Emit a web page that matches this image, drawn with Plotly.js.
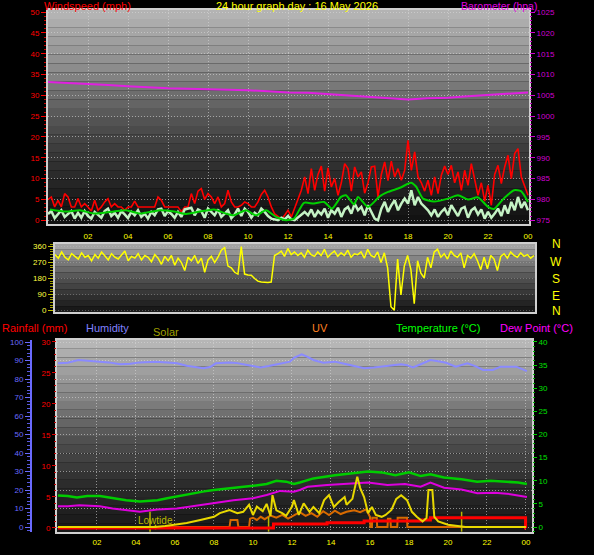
<!DOCTYPE html>
<html><head><meta charset="utf-8">
<script src="https://cdn.plot.ly/plotly-3.0.1.min.js"></script>
<style>html,body{margin:0;padding:0;background:#000;}#chart{width:594px;height:555px;}</style>
</head><body><div id="chart"></div>
<script>
// ---------- DATA ----------
// Panel 1: 10-minute samples from 00:00 to 24:00 (145 samples)
const windGust = [
 5.0,5.6,3.2,4.8,3.2,6.4,5.6,3.2,3.2,5.2,3.2,4.0,3.2,
 2.2,4.8,2.4,3.2,4.4,5.2,3.2,4.0,3.2,3.2,2.4,3.2,
 3.2,4.6,3.2,3.2,3.2,3.2,3.2,3.2,5.6,4.8,3.2,3.2,
 3.2,3.2,3.2,2.0,3.2,3.2,6.4,4.0,7.0,7.6,5.0,6.4,
 5.6,4.0,5.6,3.2,4.0,7.2,4.4,3.2,3.2,3.6,4.4,4.0,
 3.2,3.2,4.4,6.2,7.2,5.6,3.2,1.5,0.8,0.3,1.2,2.4,
 0.8,2.8,5.0,7.2,10.4,6.4,12.4,7.2,11.0,13.0,7.0,12.6,
 8.0,10.0,6.0,9.0,13.6,12.4,7.0,12.8,10.4,11.6,6.5,9.0,
 12.8,13.0,5.6,11.0,14.0,9.5,14.2,10.4,12.4,9.6,12.0,19.2,
 12.0,16.4,10.4,9.0,7.0,9.6,6.0,10.4,6.4,10.8,13.0,11.0,
 13.2,9.0,11.6,7.2,12.0,8.4,13.6,9.6,6.0,9.0,4.6,8.4,
 3.6,11.0,13.2,8.8,12.8,15.6,10.0,16.0,17.2,10.4,8.0,6.0
];
const windSpeed = [
 1.5,2.2,0.5,1.5,2.4,0.8,1.5,2.2,0.4,1.8,
 0.6,2.2,1.0,0.4,2.0,1.2,0.6,2.2,2.8,1.0,
 1.8,0.6,2.2,1.4,0.5,2.0,1.2,2.4,0.8,1.6,
 0.4,2.0,1.2,2.6,2.8,1.0,2.2,1.5,0.6,2.0,
 0.8,2.6,2.8,3.0,1.2,2.6,2.2,0.6,2.8,2.0,
 1.2,2.6,0.8,1.6,2.4,0.5,1.4,2.8,1.0,2.8,
 2.0,0.6,1.8,1.2,2.8,2.0,1.0,0.4,0.2,0.0,
 0.6,0.2,1.0,
 0.2,0.0,0.6,1.2,2.0,1.2,2.6,0.8,2.2,1.4,2.8,0.6,
 2.4,1.6,3.0,0.8,2.6,3.2,1.6,4.0,2.4,3.2,1.2,3.6,
 2.0,0.4,0.0,2.8,4.4,2.0,3.6,4.8,2.4,4.0,5.2,4.0,
 7.2,3.6,5.6,4.0,3.2,2.4,1.2,2.6,0.8,2.0,2.8,1.2,
 3.6,2.4,1.0,2.8,3.2,0.6,2.4,3.0,1.4,2.6,0.4,2.0,
 0.6,1.6,2.8,1.0,3.6,1.6,4.4,2.4,5.6,3.0,4.4,2.4
];
const windAvgHours = [0.1,0.9,1.6,2.3,3.3,3.9,4.6,5.6,6.3,6.9,7.6,8.3,8.9,9.3,9.9,10.4,10.9,11.4,11.9,12.3,12.8,13.3,13.8,14.2,14.65,14.9,15.3,15.5,16.0,16.6,17.0,17.6,18.15,18.4,18.75,19.3,20.0,20.5,21.0,21.5,22.0,22.3,22.8,23.3,23.65,24.0];
const windAvg      = [2.6,2.1,2.4,1.6,2.1,2.4,1.6,2.4,2.1,1.5,2.1,2.6,1.6,1.2,2.4,1.2,2.4,0.8,0.0,0.4,4.2,4.0,4.4,2.8,5.6,6.0,3.8,5.6,3.2,5.8,6.8,7.8,9.0,8.1,5.2,4.5,5.2,6.0,5.0,5.5,3.2,2.7,5.3,7.2,7.0,4.4];
const baroHours = [0,1,2,3,4,5,6,7,8,8.5,9,10,11,12,13,14,15,16,17,18,19,20,21,22,23,24];
const baro      = [1008.2,1008.0,1007.7,1007.5,1007.2,1006.9,1006.7,1006.6,1006.5,1006.4,1006.3,1006.2,1006.0,1005.7,1005.6,1005.3,1005.05,1004.6,1004.4,1004.0,1004.3,1004.4,1004.8,1005.1,1005.3,1005.7];

// Panel 2: wind direction (degrees), 10-minute samples
const windDir = [
 315,295,330,300,285,320,305,
 290,325,300,310,280,315,
 295,330,305,285,320,300,
 290,310,335,280,305,295,
 320,285,310,300,275,315,
 295,260,305,280,310,255,
 295,270,225,300,280,310,
 265,295,215,285,305,270,
 300,340,355,250,240,215,
 205,360,205,200,198,180,
 165,160,158,157,160,310,
 320,335,305,350,315,330,
 310,325,300,340,315,305,
 330,310,345,300,320,335,
 305,325,310,340,300,320,
 315,330,295,345,310,300,
 330,270,325,240,20,0,
 290,87,250,310,230,37,
 280,210,183,300,240,330,
 345,300,320,290,335,310,
 300,325,240,310,295,320,
 280,230,300,235,310,290,
 225,305,320,295,330,310,
 300,325,305,315,295,310
];
const dirLabels = ['N','W','S','E','N'];

// Panel 3
const humHours = [0,0.5,1.05,2.0,2.6,3.2,3.7,4.2,5.0,5.6,6.1,6.6,7.0,7.45,7.8,8.1,8.8,9.2,9.7,10.1,10.4,10.8,11.2,11.6,11.9,12.1,12.5,12.8,13.1,13.6,14.2,14.8,15.2,15.7,16.2,16.6,17.0,17.6,17.9,18.2,18.6,19.1,19.5,19.9,20.4,21.0,21.4,21.8,22.3,22.7,23.5,24.0,24.05];
const humidity = [88.5,88.8,90.3,89.4,89.0,88.0,88.2,89.0,89.3,89.0,88.5,87.2,86.5,85.8,86.5,88.5,89.0,88.6,87.6,86.8,86.3,87.0,88.0,88.6,89.4,91.5,93.3,92.0,90.3,88.8,89.4,88.0,87.0,85.8,86.2,86.7,87.2,88.0,87.5,86.3,88.0,90.3,89.6,88.8,86.7,88.5,87.0,84.9,84.9,86.7,86.7,84.3,84.3];
const tempHours = [0,0.5,0.97,1.5,2.15,2.8,3.5,4.2,4.6,5.1,5.6,6.1,6.9,7.5,8.0,9.0,10.0,10.7,11.2,11.7,12.1,12.4,13.1,14.2,15.2,15.9,16.6,17.3,18.0,18.6,19.1,19.8,20.7,21.5,22.2,22.9,23.6,24.05];
const temperature = [6.8,6.7,6.4,6.7,6.7,6.2,5.8,5.5,5.6,5.8,6.2,6.6,7.3,7.7,8.0,8.4,8.9,9.3,10.0,9.8,9.3,9.6,10.5,11.2,11.6,12.0,11.8,11.2,11.8,11.0,11.4,10.7,10.3,9.8,10.0,9.8,9.6,9.3];
const dewHours = [0,0.5,1.1,2.15,2.8,3.5,4.2,4.6,5.1,6.1,6.9,8.0,9.0,10.0,10.7,11.4,12.1,12.4,12.8,13.8,14.8,15.9,16.9,17.8,18.6,19.1,19.8,20.7,21.5,22.4,23.2,24.05];
const dewPoint = [4.5,4.5,4.7,4.5,4.0,3.7,3.3,3.5,3.8,4.0,4.5,5.3,5.8,6.2,6.9,7.8,7.6,8.0,8.7,9.1,9.3,9.6,9.1,9.3,8.7,9.6,8.5,8.1,7.3,7.4,7.1,6.5];
const solarHours = [0,5.0,5.5,5.9,6.6,7.3,8.0,8.3,8.8,9.2,9.5,9.8,10.0,10.2,10.5,10.7,10.9,11.0,11.2,11.5,11.7,12.0,12.1,12.35,12.6,12.9,13.1,13.4,13.65,13.9,14.15,14.4,14.7,14.8,15.1,15.35,15.5,15.7,15.9,16.1,16.3,16.6,16.8,17.1,17.35,17.6,17.9,18.15,18.4,18.7,18.9,19.0,19.2,19.3,19.5,20.0,20.6,20.9,24.0];
const solar = [0,0,5,10,22,38,55,75,92,75,82,120,65,110,85,125,60,172,90,75,60,110,145,65,128,82,108,75,145,172,108,135,162,120,152,272,210,162,75,108,65,55,65,92,152,172,145,82,55,30,48,200,200,55,30,12,5,0,0];
const uvHours = [0,8.8,8.85,9.2,9.25,9.8,9.85,10.0,10.2,10.4,10.6,10.9,11.2,11.5,11.8,12.1,12.4,12.7,13.0,13.3,13.6,13.9,14.2,14.5,14.8,15.2,15.5,15.8,16.0,16.02,16.1,16.12,16.35,16.37,16.9,16.92,17.05,17.07,17.4,17.42,17.9,17.92,24.0];
const uvIndex = [0,0,0.38,0.38,0,0,0.45,0.5,0.38,0.55,0.42,0.62,0.5,0.65,0.45,0.62,0.8,0.6,0.75,0.55,0.85,0.65,0.88,0.7,0.82,0.9,0.8,0.95,0.55,0,0,0.5,0.5,0,0,0.45,0.45,0,0,0.5,0.5,0,0];
const rainHours = [0,11.05,13.8,15.7,18.65,19.1,23.98,24.0];
const rainfall  = [0,0.65,0.86,1.13,1.3,1.66,0,0];
const tideHours   = [4.72,4.72,null,5.0,5.0,null,10.8,10.8,null,20.7,20.7];
const tideMarks   = [-1,3.3,null,-0.5,0.5,null,-1,2.2,null,-1,3.3];
const hourTickVals = [2,4,6,8,10,12,14,16,18,20,22,24];
const hourTickText = ['02','04','06','08','10','12','14','16','18','20','22','00'];

// ---------- LAYOUT HELPERS ----------
const W = 594, H = 555;
const px = x => x / W;
const py = y => 1 - y / H;
const hours10 = windGust.map((_, i) => i / 6);
const FONT = 'Liberation Sans, Arial, sans-serif';

const shapes = [];
// background shading: piecewise grey levels [fraction down the panel, grey]
function panelBg(x0, x1, top, bottom, stops, n) {
  const grey = t => {
    for (let k = 1; k < stops.length; k++) {
      if (t <= stops[k][0]) {
        const a = stops[k-1], b = stops[k];
        return a[1] + (b[1] - a[1]) * (t - a[0]) / (b[0] - a[0]);
      }
    }
    return stops[stops.length-1][1];
  };
  for (let i = 0; i < n; i++) {
    const c = Math.round(grey((i + 0.5) / n));
    const y0 = top + (bottom - top) * i / n, y1 = top + (bottom - top) * (i + 1) / n;
    shapes.push({type:'rect', xref:'paper', yref:'paper', layer:'below',
      x0:px(x0), x1:px(x1), y0:py(y1), y1:py(y0), line:{width:0},
      fillcolor:`rgb(${c},${c},${c})`});
  }
}
panelBg(48, 529, 10, 224, [[0,182],[0.27,140],[0.47,92],[0.66,58],[0.89,26],[1,16]], 24);
panelBg(55, 535, 244, 312, [[0,170],[0.5,82],[1,20]], 12);
panelBg(57, 532, 340, 532, [[0,186],[0.27,140],[0.5,84],[0.75,44],[1,22]], 22);

const grid = {showgrid:true, gridcolor:'rgba(215,215,215,0.6)', griddash:'1px,2px', gridwidth:1};
const frame = {showline:true, linecolor:'#cfcfcf', linewidth:2, mirror:true, zeroline:false};
const tickF = c => ({family:FONT, size:8, color:c});

const layout = {
  width: W, height: H, margin:{l:0,r:0,t:0,b:0}, autosize:false,
  paper_bgcolor:'#000', plot_bgcolor:'rgba(0,0,0,0)', showlegend:false,
  shapes: shapes,
  // panel 1
  xaxis: Object.assign({domain:[px(48),px(529)], range:[0,24.05], anchor:'y',
    tickvals:hourTickVals, ticktext:hourTickText, tickfont:tickF('#ffff00'),
    ticks:'outside', ticklen:3, tickcolor:'rgba(0,0,0,0)'}, grid, frame),
  yaxis: Object.assign({domain:[py(224),py(10)], range:[-0.9,50.5], anchor:'x',
    tickvals:[0,5,10,15,20,25,30,35,40,45,50], tickfont:tickF('#ff0000'),
    ticks:'outside', ticklen:5, tickcolor:'#ff0000',
    minor:{dtick:1, ticks:'outside', ticklen:2, tickcolor:'#d00000', showgrid:false}}, grid, frame),
  yaxis2: {overlaying:'y', side:'right', anchor:'x', range:[974.1,1025.5],
    tickvals:[975,980,985,990,995,1000,1005,1010,1015,1020,1025], tickfont:tickF('#d000d0'),
    ticks:'outside', ticklen:5, tickcolor:'#d000d0', showgrid:false, zeroline:false, showline:false,
    minor:{dtick:1, ticks:'outside', ticklen:2, tickcolor:'#c000c0', showgrid:false}},
  // panel 2
  xaxis2: Object.assign({domain:[px(55),px(535)], range:[0,24.05], anchor:'y3',
    showticklabels:false, ticks:'', showgrid:false}, frame),
  yaxis3: Object.assign({domain:[py(312),py(244)], range:[-9.6,375], anchor:'x2',
    tickvals:[0,90,180,270,360], tickfont:tickF('#ffff40'),
    ticks:'outside', ticklen:5, tickcolor:'#c0c000',
    minor:{dtick:15, ticks:'outside', ticklen:3, tickcolor:'#a0a000', showgrid:false}},
    grid, {gridcolor:'rgba(200,200,200,0.35)'}, frame),
  // panel 3
  xaxis3: Object.assign({domain:[px(57),px(532)], range:[-0.05,24.31], anchor:'y4',
    tickvals:hourTickVals, ticktext:hourTickText, tickfont:tickF('#ffff00'),
    ticks:'outside', ticklen:1, tickcolor:'rgba(0,0,0,0)'}, grid, frame),
  yaxis4: Object.assign({domain:[py(532),py(340)], range:[-0.27,10.1], anchor:'x3',
    showticklabels:false, ticks:'', showgrid:false}, frame),
  yaxis5: Object.assign({overlaying:'y4', anchor:'free', position:px(31), side:'left',
    range:[-2.7,101.1], tickvals:[0,10,20,30,40,50,60,70,80,90,100], tickfont:tickF('#6a6aff'),
    ticks:'outside', ticklen:5, tickcolor:'#6a6aff', showline:true, linecolor:'#6a6aff', linewidth:2,
    zeroline:false,
    minor:{dtick:2, ticks:'outside', ticklen:3, tickcolor:'#5a5ae0', showgrid:false}}, grid),
  yaxis6: {overlaying:'y4', side:'right', anchor:'x3', range:[-1.08,40.4],
    tickvals:[0,5,10,15,20,25,30,35,40], tickfont:tickF('#00e000'),
    ticks:'outside', ticklen:4, tickcolor:'#00d000', showgrid:false, zeroline:false,
    minor:{dtick:1, ticks:'outside', ticklen:2, tickcolor:'#00b000', showgrid:false}},
  yaxis7: {overlaying:'y4', side:'left', anchor:'x3', range:[-0.65,30.3],
    tickvals:[0,5,10,15,20,25,30], tickfont:tickF('#ff0000'),
    ticks:'outside', ticklen:4, tickcolor:'#e00000', showgrid:false, zeroline:false,
    minor:{dtick:1, ticks:'outside', ticklen:2, tickcolor:'#c00000', showgrid:false}},
  yaxis8: {overlaying:'y4', anchor:'x3', range:[-27,1010], visible:false},
  annotations: []
};

function txt(t, x, y, color, size, anchor) {
  layout.annotations.push({text:t, xref:'paper', yref:'paper', x:px(x), y:py(y),
    xanchor:anchor || 'left', yanchor:'middle', showarrow:false,
    font:{family:FONT, size:size, color:color}});
}
txt('Windspeed (mph)', 42, 6, '#ff0000', 11);
txt('24 hour graph day : 16 May 2026', 297, 6, '#ffff00', 11, 'center');
txt('Barometer (hpa)', 459, 6, '#e000e0', 10.5);
txt('Rainfall (mm)', 0, 327.5, '#ff0000', 11);
txt('Humidity', 84, 327.5, '#8080ff', 11);
txt('Solar', 151, 332, '#a0a000', 11);
txt('UV', 310, 327.5, '#ff8020', 11);
txt('Temperature (°C)', 394, 327.5, '#00ff00', 11);
txt('Dew Point (°C)', 498, 327.5, '#ff00ff', 11);
const dirY = [244, 262, 278.5, 296, 311];
dirLabels.forEach((d, i) => txt(d, 556, dirY[i], '#ffff00', 12, 'center'));
layout.annotations.push({text:'Lowtide', xref:'x3', yref:'y6', x:5.0, y:1.3,
  xanchor:'center', yanchor:'middle', showarrow:false, font:{family:FONT, size:10, color:'#b8b800'}});

const data = [
  {x:hours10, y:windGust, xaxis:'x', yaxis:'y', type:'scatter', mode:'lines', line:{color:'#ff0000', width:1.6}},
  {x:hours10, y:windSpeed, xaxis:'x', yaxis:'y', type:'scatter', mode:'lines', line:{color:'#c4f2c4', width:2.5}},
  {x:windAvgHours, y:windAvg, xaxis:'x', yaxis:'y', type:'scatter', mode:'lines', line:{color:'#00d000', width:2, shape:'spline', smoothing:0.6}},
  {x:baroHours, y:baro, xaxis:'x', yaxis:'y2', type:'scatter', mode:'lines', line:{color:'#e020e0', width:2}},
  {x:hours10, y:windDir, xaxis:'x2', yaxis:'y3', type:'scatter', mode:'lines', line:{color:'#ffff00', width:1.5}},
  {x:uvHours, y:uvIndex, xaxis:'x3', yaxis:'y4', type:'scatter', mode:'lines', line:{color:'#d86a00', width:2}},
  {x:humHours, y:humidity, xaxis:'x3', yaxis:'y5', type:'scatter', mode:'lines', line:{color:'#8a8aff', width:2}},
  {x:tempHours, y:temperature, xaxis:'x3', yaxis:'y6', type:'scatter', mode:'lines', line:{color:'#00cc00', width:2.5}},
  {x:dewHours, y:dewPoint, xaxis:'x3', yaxis:'y6', type:'scatter', mode:'lines', line:{color:'#dd00dd', width:2}},
  {x:rainHours, y:rainfall, xaxis:'x3', yaxis:'y7', type:'scatter', mode:'lines', line:{color:'#ff0000', width:3, shape:'hv'}},
  {x:solarHours, y:solar, xaxis:'x3', yaxis:'y8', type:'scatter', mode:'lines', line:{color:'#e8d800', width:2}},
  {x:tideHours, y:tideMarks, xaxis:'x3', yaxis:'y6', type:'scatter', mode:'lines', line:{color:'#b8b800', width:1.5}}
];

Plotly.newPlot('chart', data, layout, {staticPlot:true, displayModeBar:false});
</script></body></html>
